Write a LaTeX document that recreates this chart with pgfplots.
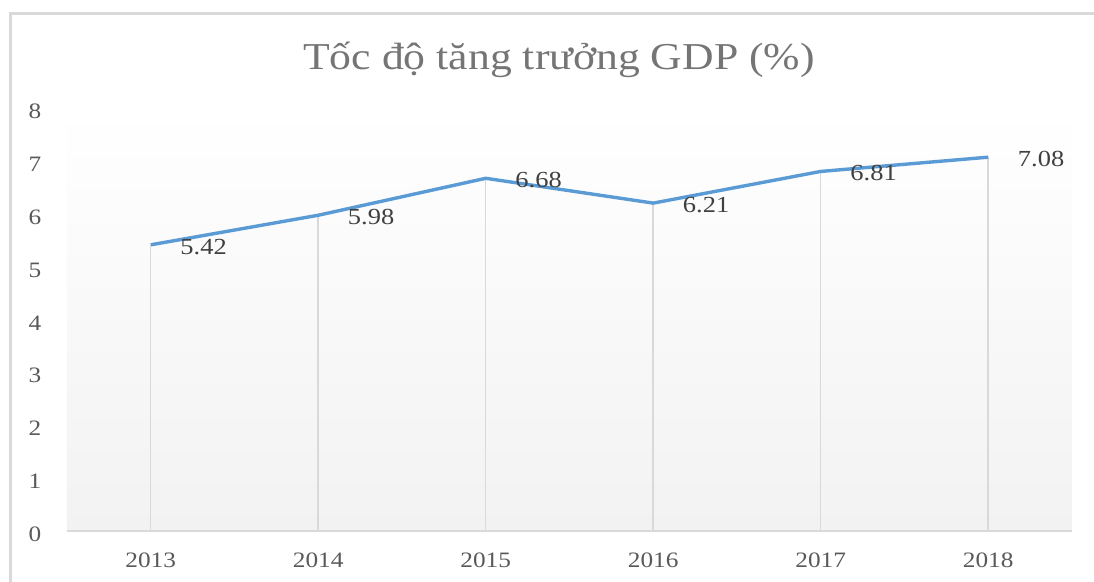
\documentclass[border=0pt]{standalone}
\usepackage{fontspec}
\setmainfont{Liberation Serif}[FakeStretch=1.15]
\usepackage{pgfplots}
\pgfplotsset{compat=1.18}
\definecolor{lineblue}{HTML}{5B9BD5}
\definecolor{gridgray}{HTML}{D9D9D9}
\definecolor{textgray}{HTML}{595959}
\definecolor{titlegray}{HTML}{757575}
\definecolor{labelgray}{HTML}{404040}
\definecolor{bggray}{HTML}{F2F2F2}
\begin{document}
\begin{tikzpicture}
\useasboundingbox (0,0) rectangle (547pt,291pt);
\fill[white] (0,0) rectangle (547pt,291pt);
\begin{scope}
\clip (0,0) rectangle (547pt,291pt);
\draw[gridgray, line width=1.5pt] (5pt,-10pt) -- (5pt,284pt) -- (560pt,284pt);
\end{scope}
\node[anchor=base, text=titlegray, font=\fontsize{19}{22}\selectfont] at (279.5pt,256pt) {Tốc độ tăng trưởng GDP (\%)};
\begin{axis}[
  at={(33.5pt,25.5pt)}, anchor=south west,
  scale only axis, width=502.5pt, height=211.2pt,
  xmin=-0.5, xmax=5.5, ymin=0, ymax=8,
  xtick={0,1,2,3,4,5},
  xticklabels={2013,2014,2015,2016,2017,2018},
  ytick={0,1,...,8},
  separate axis lines,
  axis x line*=bottom, axis y line*=left,
  x axis line style={draw=gridgray, line width=0.7pt},
  y axis line style={draw=none},
  major tick length=0pt,
  tick style={draw=none},
  axis background/.style={top color=white, bottom color=bggray},
  /pgf/number format/assume math mode=true,
  ticklabel style={text=textgray, font=\fontsize{11}{13}\selectfont},
  yticklabel style={anchor=center, xshift=-16pt, yshift=-1.5pt},
  xticklabel style={anchor=center, yshift=-14.5pt},
  clip=false,
]
\addplot[ycomb, draw=gridgray, line width=0.75pt, mark=none] coordinates {
  (0,5.42) (1,5.98) (2,6.68) (3,6.21) (4,6.81) (5,7.08)
};
\addplot[draw=lineblue, line width=1.7pt, mark=none,
  nodes near coords,
  point meta=explicit symbolic,
  every node near coord/.append style={anchor=west, inner sep=0pt, xshift=14pt, yshift=-1pt, text=labelgray, font=\fontsize{11.5}{13}\selectfont},
] coordinates {
  (0,5.42) [5.42]
  (1,5.98) [5.98]
  (2,6.68) [6.68]
  (3,6.21) [6.21]
  (4,6.81) [6.81]
  (5,7.08) [7.08]
};
\end{axis}
\end{tikzpicture}
\end{document}
